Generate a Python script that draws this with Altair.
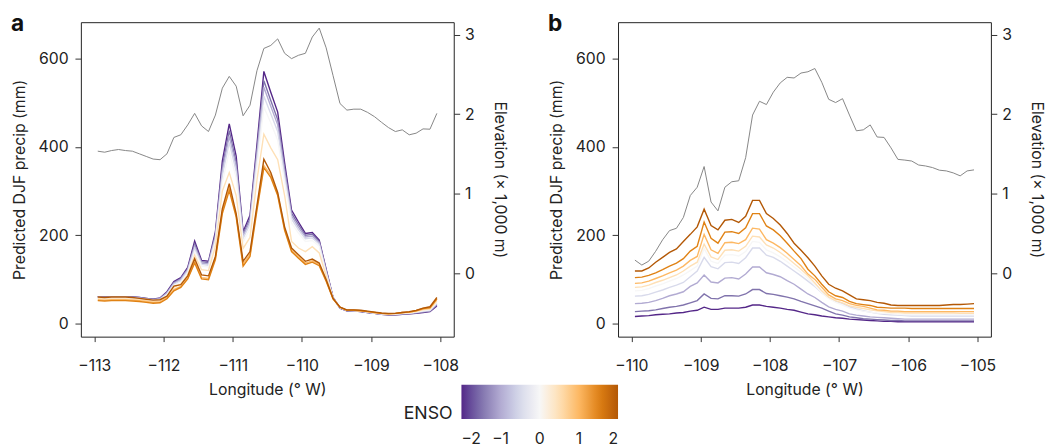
import altair as alt
import pandas as pd

ENSO = [-2, -1.5, -1, -0.5, 0, 0.5, 1, 1.5, 2]
COLORS = ["#542788", "#8073ac", "#b2abd2", "#d8daeb", "#f7f7f7",
          "#fee0b6", "#fdb863", "#e08214", "#b35806"]

LON_A = [-112.95, -112.85, -112.75, -112.65, -112.55, -112.45, -112.35, -112.25, -112.15, -112.05,
         -111.95, -111.85, -111.75, -111.65, -111.55, -111.45, -111.35, -111.25, -111.15, -111.05,
         -110.95, -110.85, -110.75, -110.65, -110.55, -110.45, -110.35, -110.25, -110.15, -110.05,
         -109.95, -109.85, -109.75, -109.65, -109.55, -109.45, -109.35, -109.25, -109.15, -109.05,
         -108.95, -108.85, -108.75, -108.65, -108.55, -108.45, -108.35, -108.25, -108.15, -108.05]
LON_B = [-109.95, -109.85, -109.75, -109.65, -109.55, -109.45, -109.35, -109.25, -109.15, -109.05,
         -108.95, -108.85, -108.75, -108.65, -108.55, -108.45, -108.35, -108.25, -108.15, -108.05,
         -107.95, -107.85, -107.75, -107.65, -107.55, -107.45, -107.35, -107.25, -107.15, -107.05,
         -106.95, -106.85, -106.75, -106.65, -106.55, -106.45, -106.35, -106.25, -106.15, -106.05,
         -105.95, -105.85, -105.75, -105.65, -105.55, -105.45, -105.35, -105.25, -105.15, -105.05]

# Panel a: predicted DJF precip (mm) per ENSO value
A_M20 = [61, 60, 61, 61, 61, 60, 59, 57, 55, 58, 72, 95, 104, 127, 187, 143, 141, 208, 368, 452,
         379, 208, 245, 405, 571, 524, 479, 364, 257, 230, 204, 206, 189, 123, 59, 35, 29, 28, 27, 25,
         23, 21, 20, 20, 21, 22, 23, 25, 27, 40]
A_M15 = [61, 60, 61, 61, 61, 60, 59, 57, 55, 57, 70, 93, 102, 124, 180, 140, 138, 202, 355, 437,
         365, 203, 238, 392, 550, 505, 462, 352, 250, 224, 200, 202, 186, 121, 59, 35, 29, 29, 27, 25,
         23, 21, 20, 20, 21, 22, 24, 26, 28, 42]
A_M10 = [60, 59, 60, 60, 60, 59, 58, 56, 54, 56, 69, 91, 100, 122, 175, 137, 135, 197, 345, 424,
         355, 198, 232, 383, 535, 492, 450, 343, 244, 218, 196, 198, 183, 118, 58, 36, 30, 29, 28, 26,
         24, 22, 21, 21, 22, 23, 25, 27, 29, 44]
A_M05 = [59, 58, 59, 59, 59, 58, 57, 55, 53, 55, 67, 89, 97, 119, 170, 134, 132, 192, 335, 410,
         345, 193, 225, 370, 515, 475, 435, 333, 237, 212, 192, 194, 180, 115, 58, 36, 30, 29, 28, 26,
         24, 22, 21, 21, 23, 24, 26, 28, 30, 46]
A_P00 = [58, 57, 58, 58, 58, 57, 56, 54, 52, 53, 65, 86, 94, 115, 163, 130, 128, 185, 320, 390,
         330, 185, 215, 355, 490, 455, 415, 320, 228, 205, 186, 188, 175, 112, 57, 36, 30, 30, 28, 26,
         24, 22, 21, 22, 23, 24, 26, 29, 31, 48]
A_P05 = [57, 56, 56, 56, 56, 55, 54, 52, 50, 51, 62, 82, 89, 110, 155, 122, 120, 175, 300, 342,
         290, 170, 195, 325, 429, 398, 371, 290, 186, 171, 163, 174, 160, 108, 57, 37, 30, 30, 29, 27,
         25, 23, 22, 22, 24, 25, 27, 31, 33, 51]
A_P10 = [54, 53, 54, 54, 54, 53, 52, 50, 48, 49, 58, 77, 84, 103, 140, 104, 102, 150, 255, 308,
         245, 135, 157, 262, 358, 336, 293, 215, 166, 151, 137, 142, 134, 98, 56, 37, 30, 30, 29, 27,
         25, 23, 22, 23, 25, 26, 29, 33, 35, 55]
A_P15 = [52, 51, 52, 52, 52, 51, 50, 48, 46, 47, 56, 74, 82, 101, 137, 101, 99, 145, 249, 301,
         241, 130, 152, 256, 353, 331, 290, 211, 163, 148, 134, 139, 131, 96, 56, 37, 30, 30, 29, 27,
         25, 23, 22, 23, 25, 26, 29, 34, 36, 56]
A_P20 = [60, 59, 60, 60, 60, 59, 57, 55, 53, 54, 62, 85, 88, 108, 147, 110, 108, 152, 260, 317,
         249, 141, 163, 267, 372, 342, 297, 219, 171, 156, 141, 146, 137, 100, 57, 37, 31, 31, 30, 28,
         26, 24, 23, 23, 25, 27, 30, 35, 38, 59]

# Panel b
B_M20 = [16, 17, 18, 20, 21, 22, 24, 25, 28, 30, 37, 32, 32, 35, 35, 35, 37, 42, 42, 39,
         37, 35, 32, 30, 26, 22, 20, 17, 15, 13, 12, 10, 9, 8, 7, 6, 5, 5, 4, 4,
         4, 4, 4, 4, 4, 4, 4, 4, 4, 4]
B_M15 = [27, 28, 29, 31, 34, 37, 39, 42, 47, 52, 67, 57, 56, 63, 63, 62, 67, 77, 77, 68,
         66, 63, 60, 56, 50, 45, 40, 35, 28, 22, 19, 15, 13, 11, 10, 9, 8, 7, 7, 6,
         6, 6, 6, 6, 6, 6, 6, 6, 6, 6]
B_M10 = [45, 46, 48, 52, 57, 63, 67, 72, 84, 92, 110, 94, 92, 103, 104, 101, 112, 128, 128, 115,
         111, 106, 97, 89, 78, 67, 59, 48, 38, 32, 28, 22, 19, 17, 15, 14, 13, 12, 11, 10,
         10, 10, 10, 10, 10, 10, 10, 10, 10, 10]
B_M05 = [62, 63, 66, 71, 76, 82, 87, 93, 106, 119, 150, 129, 124, 138, 139, 136, 149, 171, 171, 155,
         150, 141, 130, 119, 108, 96, 84, 70, 58, 50, 45, 38, 33, 29, 26, 23, 21, 20, 19, 18,
         17, 17, 17, 17, 17, 17, 17, 17, 17, 17]
B_P00 = [74, 75, 79, 85, 90, 96, 102, 110, 120, 130, 170, 141, 136, 155, 156, 153, 163, 186, 184, 167,
         160, 151, 140, 128, 116, 102, 86, 70, 57, 48, 42, 35, 31, 28, 26, 24, 23, 22, 21, 20,
         20, 20, 20, 20, 20, 20, 20, 20, 20, 20]
B_P05 = [82, 83, 87, 93, 98, 104, 110, 119, 130, 139, 180, 151, 145, 166, 167, 164, 175, 198, 196, 178,
         171, 161, 149, 136, 123, 108, 92, 74, 60, 52, 47, 40, 37, 34, 31, 29, 27, 25, 25, 24,
         24, 24, 24, 24, 24, 24, 24, 23, 23, 23]
B_P10 = [91, 92, 96, 102, 108, 115, 121, 130, 143, 152, 202, 167, 159, 183, 184, 181, 190, 216, 214, 190,
         182, 172, 159, 145, 131, 112, 100, 82, 65, 56, 52, 45, 41, 39, 35, 31, 30, 28, 28, 27,
         27, 27, 27, 27, 27, 27, 27, 27, 27, 27]
B_P15 = [104, 105, 109, 115, 122, 130, 137, 147, 164, 175, 230, 193, 182, 207, 208, 204, 217, 249, 249, 221,
         212, 199, 182, 164, 147, 123, 108, 89, 72, 63, 59, 50, 45, 43, 41, 37, 36, 35, 35, 35,
         34, 34, 34, 34, 34, 34, 34, 34, 34, 34]
B_P20 = [119, 119, 126, 139, 150, 161, 169, 186, 202, 219, 259, 222, 212, 234, 236, 229, 243, 279, 279, 249,
         238, 223, 204, 182, 166, 149, 130, 108, 89, 80, 74, 65, 56, 54, 52, 48, 46, 42, 41, 41,
         41, 41, 41, 41, 41, 42, 43, 43, 44, 45]

# Elevation (x 1,000 m)
ELEV_A = [1.535, 1.522, 1.543, 1.556, 1.543, 1.535, 1.502, 1.469, 1.436, 1.428,
          1.502, 1.708, 1.741, 1.865, 2.010, 1.853, 1.782, 1.989, 2.327, 2.475,
          2.352, 1.980, 2.113, 2.546, 2.826, 2.864, 2.946, 2.765, 2.698, 2.740,
          2.765, 2.970, 3.082, 2.834, 2.484, 2.134, 2.051, 2.063, 2.063, 2.022,
          1.968, 1.898, 1.832, 1.782, 1.803, 1.741, 1.761, 1.815, 1.811, 2.010]
ELEV_B = [0.166, 0.104, 0.153, 0.277, 0.421, 0.537, 0.566, 0.702, 0.978, 1.082,
          1.342, 0.896, 0.785, 1.082, 1.151, 1.163, 1.453, 1.989, 2.162, 2.121,
          2.277, 2.393, 2.463, 2.455, 2.517, 2.533, 2.574, 2.401, 2.187, 2.146,
          2.195, 1.989, 1.791, 1.803, 1.865, 1.713, 1.708, 1.577, 1.432, 1.423,
          1.411, 1.361, 1.349, 1.329, 1.296, 1.287, 1.262, 1.225, 1.287, 1.300]

XTICKS_A = [-113, -112, -111, -110, -109, -108]
XTICKS_B = [-110, -109, -108, -107, -106, -105]
PRECIP_TICKS = [0, 200, 400, 600]
ELEV_TICKS = [0, 1, 2, 3]

FONT = "Inter"
INK = "#222222"
W, H = 378.6, 319.3


def panel(lon, series, elev, xdom, xticks, label, label_dx):
    rows = []
    for e, vals in zip(ENSO, series):
        for x, v in zip(lon, vals):
            rows.append({"lon": x, "precip": v, "enso": e})
    dfp = pd.DataFrame(rows)
    dfe = pd.DataFrame({"lon": lon, "elev": elev})

    xscale = alt.Scale(domain=xdom, nice=False, zero=False)
    xaxis = alt.Axis(values=xticks, title="Longitude (° W)", tickSize=5,
                     labelPadding=16, titlePadding=9, grid=False, domain=False)

    legend = alt.Legend(
        title="ENSO", orient="none", legendX=327.7, legendY=368,
        direction="horizontal", titleOrient="left", titleAnchor="middle",
        titleBaseline="line-top", titleLineHeight=24,
        gradientLength=159, gradientThickness=35, values=[-2, -1, 0, 1, 2],
        labelFontSize=16, titleFontSize=18, titleFontWeight="normal",
        titlePadding=8.7, labelOffset=12, gradientStrokeWidth=0,
        labelColor=INK, titleColor=INK, labelFont=FONT, titleFont=FONT,
    )

    lines = alt.Chart(dfp).mark_line(strokeWidth=1.4).encode(
        x=alt.X("lon:Q", scale=xscale, axis=xaxis),
        y=alt.Y("precip:Q",
                scale=alt.Scale(domain=[-29.7, 682.5], nice=False, zero=False),
                axis=alt.Axis(values=PRECIP_TICKS, title="Predicted DJF precip (mm)",
                              orient="left", tickSize=6, labelPadding=7,
                              titlePadding=11, grid=False, domain=False)),
        color=alt.Color("enso:Q", scale=alt.Scale(domain=ENSO, range=COLORS),
                        legend=legend),
        detail="enso:N",
    )
    elevation = alt.Chart(dfe).mark_line(color="#858585", strokeWidth=1).encode(
        x=alt.X("lon:Q", scale=xscale, axis=xaxis),
        y=alt.Y("elev:Q",
                scale=alt.Scale(domain=[-0.796, 3.156], nice=False, zero=False),
                axis=alt.Axis(values=ELEV_TICKS, title="Elevation (× 1,000 m)",
                              orient="right", tickSize=6, labelPadding=5,
                              titlePadding=17, grid=False, domain=False)),
    )
    tag = alt.Chart(pd.DataFrame({"t": [label]})).mark_text(
        align="left", baseline="alphabetic", fontSize=23, fontWeight="bold",
        font=FONT, color="#111111",
    ).encode(text="t:N", x=alt.value(label_dx), y=alt.value(9.3))
    return alt.layer(lines, elevation, tag).resolve_scale(y="independent").properties(
        width=W, height=H)


pa = panel(LON_A, [A_M20, A_M15, A_M10, A_M05, A_P00, A_P05, A_P10, A_P15, A_P20],
           ELEV_A, [-113.194, -107.806], XTICKS_A, "a", -71)
pb = panel(LON_B, [B_M20, B_M15, B_M10, B_M05, B_P00, B_P05, B_P10, B_P15, B_P20],
           ELEV_B, [-110.194, -104.806], XTICKS_B, "b", -71)

chart = alt.hconcat(pa, pb, spacing=166.4, bounds="flush").resolve_scale(
    color="shared").resolve_legend(color="shared").properties(
    padding={"left": 2, "top": 1, "right": 5, "bottom": 2}
).configure(background="white").configure_view(
    stroke="#222222", strokeWidth=1
).configure_axis(
    labelFont=FONT, titleFont=FONT, labelFontSize=16, titleFontSize=16,
    titleFontWeight="normal", labelColor=INK, titleColor=INK,
    tickColor="#333333", tickWidth=1,
)

chart.save("out.html", embed_options={"renderer": "svg", "actions": False})
